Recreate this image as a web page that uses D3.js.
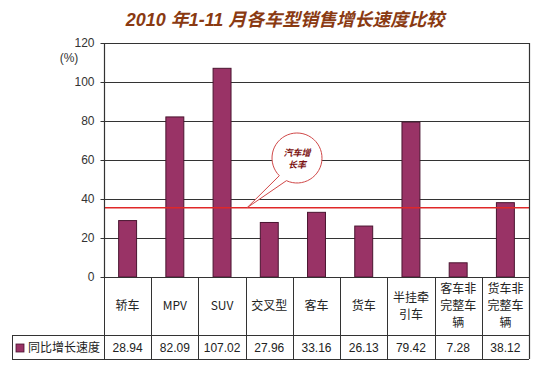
<!DOCTYPE html>
<html>
<head>
<meta charset="utf-8">
<script src="https://cdn.jsdelivr.net/npm/d3@7"></script>
<style>
  body { margin: 0; background: #fff; }
  #chart { width: 550px; height: 370px; }
  text { font-family: "Liberation Sans", Arial, "Noto Sans CJK SC", sans-serif; }
</style>
</head>
<body>
<div id="chart"></div>
<script>
const categories = ['轿车', 'MPV', 'SUV', '交叉型', '客车', '货车', '半挂牵引车', '客车非完整车辆', '货车非完整车辆']
const growth = [28.94, 82.09, 107.02, 27.96, 33.16, 26.13, 79.42, 7.28, 38.12]
const yTicks = [0, 20, 40, 60, 80, 100, 120]
const totalGrowth = 35.5
const seriesName = '同比增长速度'
const calloutText = ['汽车增', '长率']

const width = 550, height = 370
const plot = { left: 104, right: 529, top: 43, bottom: 277 }
const table = { left: 12, mid: 335, bottom: 359 }
const barColor = '#993366'
const lineColor = '#333'

const svg = d3.select('#chart').append('svg')
  .attr('width', width).attr('height', height)

// title
svg.append('text')
  .attr('x', 285).attr('y', 26)
  .attr('text-anchor', 'middle')
  .attr('font-size', 18).attr('font-weight', 'bold').attr('font-style', 'italic')
  .attr('fill', '#8a3a12')
  .style('font-family', '"Liberation Sans", "Noto Sans CJK SC", sans-serif')
  .text('2010 年1-11 月各车型销售增长速度比较')

const x = d3.scaleBand().domain(categories).range([plot.left, plot.right])
const y = d3.scaleLinear().domain([0, 120]).range([plot.bottom, plot.top])

// gridlines
svg.append('g').selectAll('line')
  .data(yTicks.filter(d => d > 0 && d < 120))
  .join('line')
  .attr('x1', plot.left).attr('x2', plot.right)
  .attr('y1', d => y(d) + 0.5).attr('y2', d => y(d) + 0.5)
  .attr('stroke', '#333').attr('stroke-width', 1)

// y axis
const yAxis = d3.axisLeft(y).tickValues(yTicks).tickSize(4).tickPadding(6)
const gy = svg.append('g')
  .attr('transform', `translate(${plot.left + 0.5},0)`)
  .call(yAxis)
gy.select('.domain').remove()
gy.selectAll('line').attr('stroke', lineColor)
gy.selectAll('text').attr('font-size', 12).attr('fill', '#333')

svg.append('text')
  .attr('x', 69).attr('y', 62)
  .attr('text-anchor', 'middle')
  .attr('font-size', 12).attr('fill', '#333')
  .text('(%)')

// bars
const barW = x.bandwidth() * 0.38
svg.append('g').selectAll('rect')
  .data(growth)
  .join('rect')
  .attr('x', (d, i) => x(categories[i]) + (x.bandwidth() - barW) / 2)
  .attr('y', d => y(d))
  .attr('width', barW)
  .attr('height', d => y(0) - y(d))
  .attr('fill', barColor)
  .attr('stroke', '#4a1530').attr('stroke-width', 1)

// red total line
svg.append('line')
  .attr('x1', plot.left).attr('x2', plot.right)
  .attr('y1', y(totalGrowth)).attr('y2', y(totalGrowth))
  .attr('stroke', '#e02828').attr('stroke-width', 1.5)

// callout bubble
const cx = 297, cy = 158, r = 25
const tipX = 247, tipY = y(totalGrowth)
const a1 = 115 * Math.PI / 180, a2 = 135 * Math.PI / 180
const p2 = [cx + r * Math.cos(a2), cy + r * Math.sin(a2)]
const bubble = d3.path()
bubble.moveTo(p2[0], p2[1])
bubble.arc(cx, cy, r, a2, a1 + 2 * Math.PI)
bubble.lineTo(tipX, tipY)
bubble.closePath()
svg.append('path')
  .attr('d', bubble.toString())
  .attr('fill', '#fff').attr('stroke', '#d04848').attr('stroke-width', 1)

svg.append('g').selectAll('text')
  .data(calloutText)
  .join('text')
  .attr('x', cx).attr('y', (d, i) => cy - 2 + i * 12)
  .attr('text-anchor', 'middle')
  .attr('font-size', 9).attr('font-weight', 'bold').attr('font-style', 'italic')
  .attr('fill', '#7a1010')
  .style('font-family', '"Noto Sans CJK SC", sans-serif')
  .text(d => d)

// frame
svg.append('path')
  .attr('d', `M${plot.left + 0.5},${plot.bottom}V${plot.top + 0.5}H${plot.right + 0.5}V${table.bottom}`)
  .attr('fill', 'none').attr('stroke', lineColor).attr('stroke-width', 1.2)

// table lines
const tbl = svg.append('g').attr('stroke', lineColor).attr('stroke-width', 1)
tbl.append('line')
  .attr('x1', plot.left).attr('x2', plot.right).attr('y1', plot.bottom + 0.5).attr('y2', plot.bottom + 0.5)
tbl.append('line')
  .attr('x1', table.left).attr('x2', plot.right).attr('y1', table.mid + 0.5).attr('y2', table.mid + 0.5)
tbl.append('line')
  .attr('x1', table.left).attr('x2', plot.right).attr('y1', table.bottom + 0.5).attr('y2', table.bottom + 0.5)
tbl.append('line')
  .attr('x1', table.left + 0.5).attr('x2', table.left + 0.5).attr('y1', table.mid).attr('y2', table.bottom)
tbl.selectAll('.sep')
  .data(categories)
  .join('line')
  .attr('x1', d => Math.round(x(d)) + 0.5).attr('x2', d => Math.round(x(d)) + 0.5)
  .attr('y1', plot.bottom).attr('y2', table.bottom)

// category labels, wrapped every 3 characters
const catG = svg.append('g').selectAll('text')
  .data(categories)
  .join('text')
  .attr('text-anchor', 'middle')
  .attr('font-size', 12).attr('fill', '#222')
  .style('font-family', '"Noto Sans CJK SC", "Liberation Sans", sans-serif')
catG.each(function (d) {
  const lines = d.match(/.{1,3}/g)
  const lh = 17
  const mid = (plot.bottom + table.mid) / 2
  const start = mid - (lines.length - 1) * lh / 2 + 4
  d3.select(this).selectAll('tspan')
    .data(lines)
    .join('tspan')
    .attr('x', x(d) + x.bandwidth() / 2)
    .attr('y', (l, i) => start + i * lh)
    .text(l => l)
})

// legend cell
svg.append('rect')
  .attr('x', 16).attr('y', 344).attr('width', 8).attr('height', 8)
  .attr('fill', barColor).attr('stroke', '#4a1530').attr('stroke-width', 0.8)
svg.append('text')
  .attr('x', 28).attr('y', 352)
  .attr('font-size', 12).attr('fill', '#222')
  .style('font-family', '"Noto Sans CJK SC", sans-serif')
  .text(seriesName)

// value row
svg.append('g').selectAll('text')
  .data(growth)
  .join('text')
  .attr('x', (d, i) => x(categories[i]) + x.bandwidth() / 2)
  .attr('y', 352)
  .attr('text-anchor', 'middle')
  .attr('font-size', 12).attr('fill', '#222')
  .text(d => d.toFixed(2))
</script>
</body>
</html>
